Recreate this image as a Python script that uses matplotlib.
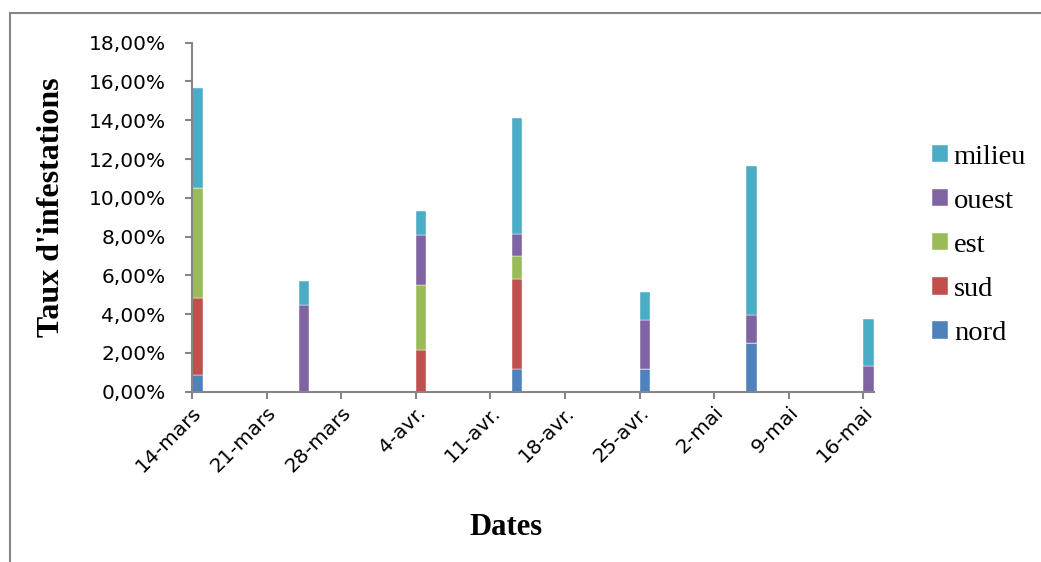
import datetime as dt
import matplotlib
matplotlib.use("Agg")
import matplotlib.pyplot as plt
import matplotlib.dates as mdates
from matplotlib.lines import Line2D
from matplotlib.ticker import FuncFormatter

# sampling dates (year is arbitrary, only day-month is shown)
dates = [dt.date(2011, 3, 14), dt.date(2011, 3, 24), dt.date(2011, 4, 4),
         dt.date(2011, 4, 13), dt.date(2011, 4, 25), dt.date(2011, 5, 5),
         dt.date(2011, 5, 16)]

# infestation rate per zone (%)
nord = [0.86, 0.0, 0.0, 1.15, 1.15, 2.53, 0.0]
sud = [3.97, 0.0, 2.17, 4.66, 0.0, 0.0, 0.0]
est = [5.69, 0.0, 3.33, 1.18, 0.0, 0.0, 0.0]
ouest = [0.0, 4.49, 2.56, 1.12, 2.56, 1.41, 1.34]
milieu = [5.13, 1.20, 1.25, 6.03, 1.43, 7.69, 2.41]

zones = ["nord", "sud", "est", "ouest", "milieu"]
colors = ["#4F81BD", "#C0504D", "#9BBB59", "#8064A2", "#4BACC6"]

tick_dates = [dt.date(2011, 3, 14) + dt.timedelta(days=7 * i) for i in range(10)]
tick_labels = ["14-mars", "21-mars", "28-mars", "4-avr.", "11-avr.",
               "18-avr.", "25-avr.", "2-mai", "9-mai", "16-mai"]

grey = "#868686"

fig = plt.figure(figsize=(10.41, 5.62), dpi=100)
ax = fig.add_axes([192 / 1041, 1 - 391.7 / 562, (874 - 192) / 1041, (391.7 - 42.7) / 562])

bottom = [0.0] * len(dates)
for name, vals, col in zip(zones, [nord, sud, est, ouest, milieu], colors):
    ax.bar(dates, vals, width=1, align="edge", bottom=bottom, color=col,
           label=name, edgecolor="white", linewidth=0.3)
    bottom = [b + v for b, v in zip(bottom, vals)]

ax.set_ylim(0, 18)
ax.set_yticks(range(0, 19, 2))
ax.yaxis.set_major_formatter(FuncFormatter(lambda v, p: f"{v:.2f}%".replace(".", ",")))
ax.set_xlim(mdates.date2num(dt.date(2011, 3, 14)), mdates.date2num(dt.date(2011, 5, 17)))
ax.set_xticks([mdates.date2num(d) for d in tick_dates])
ax.set_xticklabels(tick_labels)

for s in ["top", "right"]:
    ax.spines[s].set_visible(False)
for s in ["left", "bottom"]:
    ax.spines[s].set_color(grey)
    ax.spines[s].set_linewidth(1.5)

ax.tick_params(axis="y", colors=grey, labelcolor="black", labelsize=14.5,
               length=5, width=1.5, pad=14)
ax.tick_params(axis="x", colors=grey, labelcolor="black", labelsize=14.5,
               length=5, width=1.5, pad=3)
for lbl in ax.get_xticklabels():
    lbl.set_rotation(45)
    lbl.set_ha("right")
    lbl.set_va("top")
    lbl.set_rotation_mode("anchor")

ax.set_ylabel("Taux d'infestations", family="Liberation Serif", fontweight="bold",
              fontsize=23, va="center")
ax.yaxis.set_label_coords(-0.206, 0.53)
ax.set_xlabel("Dates", family="Liberation Serif", fontweight="bold", fontsize=22)
ax.xaxis.set_label_coords(0.46, -0.39)
ax.xaxis.label.set_va("center")

handles, labels = ax.get_legend_handles_labels()
leg = ax.legend(handles[::-1], labels[::-1], loc="center left",
                bbox_to_anchor=(1.085, 0.419), frameon=False,
                prop={"family": "Liberation Serif", "size": 20.5},
                handlelength=0.55, handleheight=0.55, handletextpad=0.22,
                labelspacing=0.67, borderpad=0, borderaxespad=0)

# chart frame (top and left edges visible)
fig.add_artist(Line2D([10 / 1041, 10 / 1041], [0, 1 - 13 / 562], color=grey, lw=1.5,
                      transform=fig.transFigure))
fig.add_artist(Line2D([10 / 1041, 1], [1 - 13 / 562, 1 - 13 / 562], color=grey, lw=1.5,
                      transform=fig.transFigure))

fig.savefig("out.png", dpi=100)
